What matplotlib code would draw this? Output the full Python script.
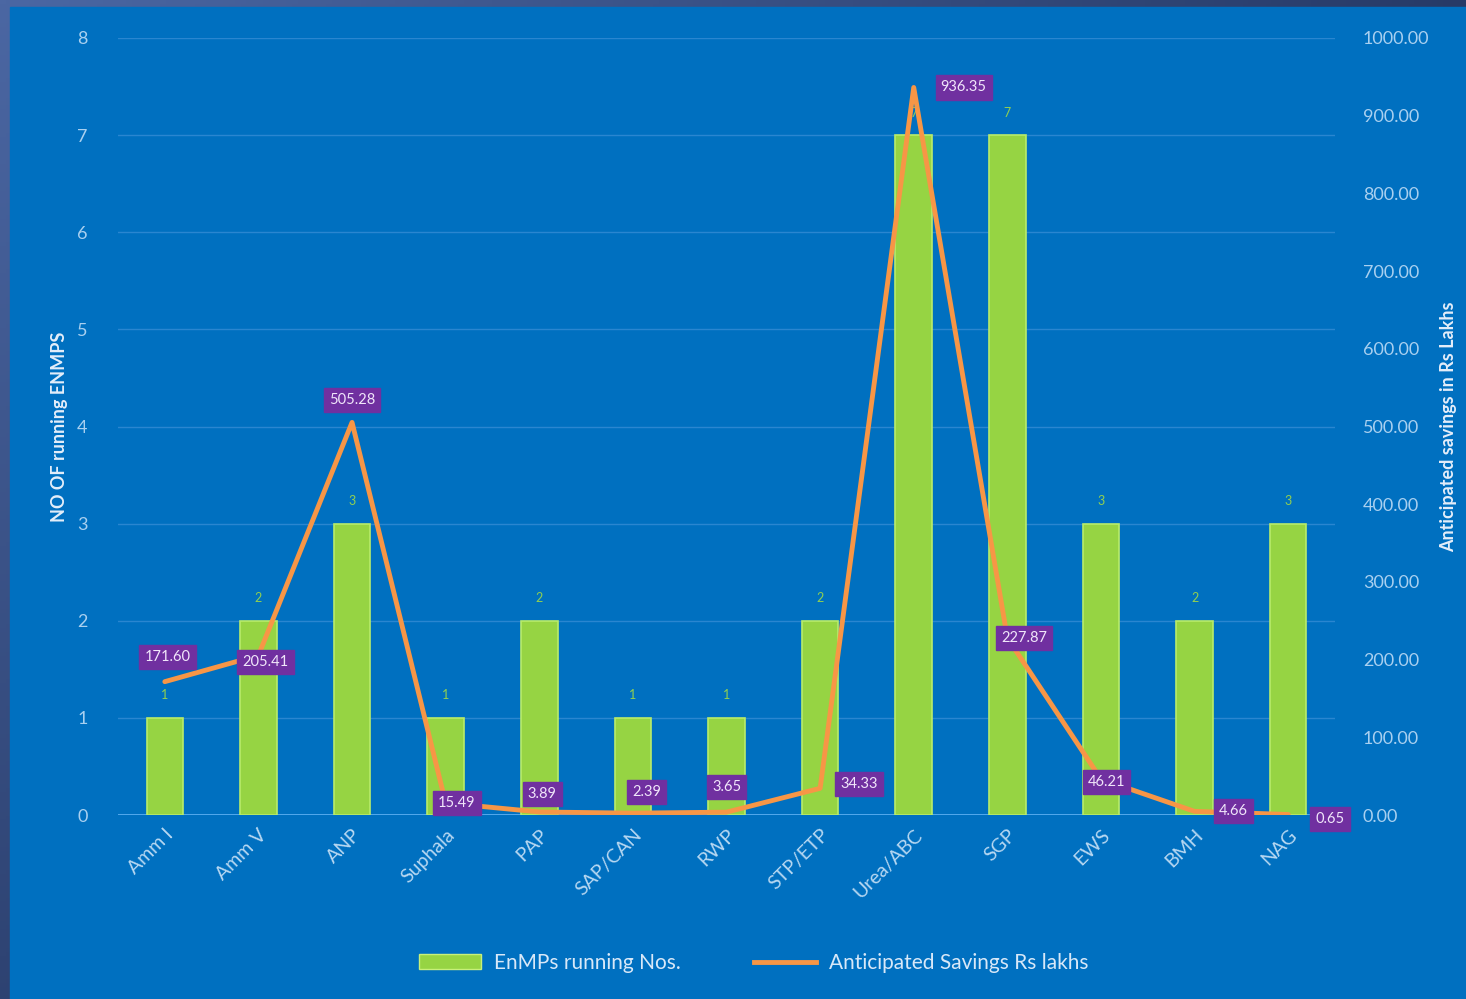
import numpy as np
import matplotlib.pyplot as plt
from matplotlib.patches import Rectangle
from matplotlib.lines import Line2D
from matplotlib.patches import Patch

plt.rcParams['font.family'] = ['Lato', 'DejaVu Sans']

units = ["Amm I", "Amm V", "ANP", "Suphala", "PAP", "SAP/CAN", "RWP",
         "STP/ETP", "Urea/ABC", "SGP", "EWS", "BMH", "NAG"]
enmps = [1, 2, 3, 1, 2, 1, 1, 2, 7, 7, 3, 2, 3]
savings = [171.60, 205.41, 505.28, 15.49, 3.89, 2.39, 3.65, 34.33,
           936.35, 227.87, 46.21, 4.66, 0.65]

# label offsets (points) for the savings boxes
offs = [(2, 18), (5, -5), (0, 16), (8, 0), (2, 13), (10, 15), (0, 18),
        (28, 3), (36, 0), (12, 0), (4, -2), (28, 0), (30, -3)]

blue = "#0070c0"
tickc = "#a9d0f0"

fig = plt.figure(figsize=(14.66, 9.99), dpi=100)

# background frame with dark gradient strips
bg = fig.add_axes([0, 0, 1, 1])
grad = np.linspace(0, 1, 256)
gx, gy = np.meshgrid(grad, grad)
g = 0.55 * gx + 0.45 * gy
c0 = np.array([0x4b, 0x67, 0xa3]) / 255
c1 = np.array([0x0a, 0x16, 0x36]) / 255
img = c0[None, None, :] * (1 - g[..., None]) + c1[None, None, :] * g[..., None]
bg.imshow(img, extent=[0, 1, 0, 1], aspect='auto', origin='upper')
bg.add_patch(Rectangle((10 / 1466, 0), 1, 1 - 7 / 999, color=blue))
bg.set_xlim(0, 1)
bg.set_ylim(0, 1)
bg.axis('off')

ax = fig.add_axes([118 / 1466, 184 / 999, 1217 / 1466, 777 / 999])
ax.set_facecolor(blue)
ax.patch.set_alpha(0)
x = np.arange(len(units))
ax.bar(x, enmps, width=0.39, color="#96d443", edgecolor="#b8ec6a",
       linewidth=1.2, zorder=3)
for xi, v in zip(x, enmps):
    ax.text(xi, v + 0.17, str(v), ha='center', va='bottom', fontsize=9,
            color="#92d050", zorder=4)

ax.set_xlim(-0.5, len(units) - 0.5)
ax.set_ylim(0, 8)
ax.set_yticks(range(0, 9))
ax.set_xticks(x)
ax.set_xticklabels(units, rotation=45, ha='right', rotation_mode='anchor',
                   fontsize=14, color="#b8d8f2")
ax.tick_params(axis='y', length=0, pad=22, labelsize=13, labelcolor=tickc)
ax.tick_params(axis='x', length=0, pad=8)
ax.grid(axis='y', color="#2a86d0", linewidth=1, zorder=0)
for s in ax.spines.values():
    s.set_visible(False)
ax.axhline(0, color="#5aaef0", linewidth=2, zorder=2)
ax.set_ylabel("NO OF running ENMPS", fontsize=13, color="#e4eefa",
              fontweight='bold')
ax.yaxis.set_label_coords(-50 / 1217, 0.5)

ax2 = ax.twinx()
ax2.plot(x, savings, color="#f79646", linewidth=3.5, zorder=5,
         solid_capstyle='round')
ax2.set_ylim(0, 1000)
ax2.set_yticks(np.arange(0, 1001, 100))
ax2.set_yticklabels(["%.2f" % v for v in np.arange(0, 1001, 100)])
ax2.tick_params(axis='y', length=0, pad=20, labelsize=13, labelcolor=tickc)
for s in ax2.spines.values():
    s.set_visible(False)
ax2.set_ylabel("Anticipated savings in Rs Lakhs", fontsize=13,
               color="#e4eefa", fontweight='bold', labelpad=8)

for xi, v, o in zip(x, savings, offs):
    ax2.annotate("%.2f" % v, (xi, v), xytext=o, textcoords='offset points',
                 ha='center', va='center', fontsize=10.5, color="#f0e6fa",
                 bbox=dict(boxstyle='square,pad=0.35', fc="#7030a0",
                           ec="#7030a0"), zorder=6)

handles = [Patch(facecolor="#96d443", edgecolor="#c8f07a"),
           Line2D([0], [0], color="#f79646", linewidth=3.5)]
fig.legend(handles, ["EnMPs running Nos.", "Anticipated Savings Rs lakhs"],
           loc='center', bbox_to_anchor=(0.514, 36 / 999), ncol=2,
           frameon=False, fontsize=15, labelcolor="#d8e8f8",
           handlelength=3.0, handletextpad=0.6, columnspacing=3.5)

plt.savefig("out.png", dpi=100)
